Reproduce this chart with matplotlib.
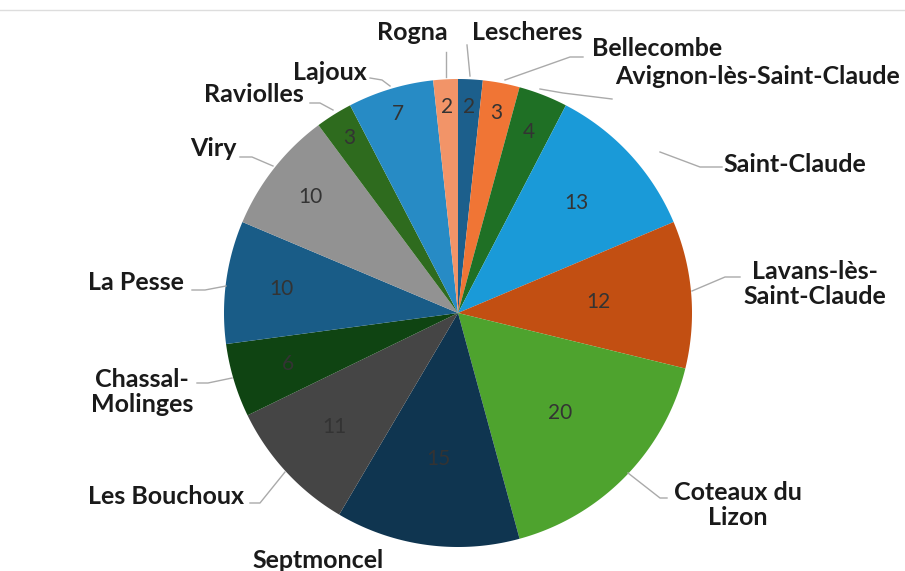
import matplotlib.pyplot as plt
import numpy as np
from matplotlib.lines import Line2D

communes = ["Lescheres", "Bellecombe", "Avignon-lès-Saint-Claude", "Saint-Claude",
            "Lavans-lès-\nSaint-Claude", "Coteaux du\nLizon", "Septmoncel",
            "Les Bouchoux", "Chassal-\nMolinges", "La Pesse", "Viry", "Raviolles",
            "Lajoux", "Rogna"]
values = [2, 3, 4, 13, 12, 20, 15, 11, 6, 10, 10, 3, 7, 2]
colors = ["#1c5f8c", "#f07535", "#1f7025", "#1a9ad8", "#c24f12", "#4ea32e", "#0f3550",
          "#454545", "#0f4412", "#195c87", "#929292", "#2e6b1e", "#278bc5", "#f29468"]

# layout (pixel coords, y measured from top)
W, H = 905, 571
cx, cy, R = 458, 313, 234
num_r = [0.88, 0.87, 0.83, 0.69, 0.6, 0.61, 0.63, 0.72, 0.76, 0.76, 0.8, 0.88, 0.89, 0.88]
label_xy = [(527, 32), (592, 48), (615, 76), (795, 165), (815, 284), (738, 505),
            (318, 560), (166, 496), (142, 392), (136, 282), (213, 149), (254, 95),
            (330, 72), (412, 32)]
label_ha = ["center", "left", "left", "center", "center", "center", "center",
            "center", "center", "center", "center", "center", "center", "center"]
leaders = [[(467, 45), (470, 76)],
           [(583, 57), (570, 57), (505, 80)],
           [(612, 99), (563, 93), (540, 89)],
           [(722, 167), (700, 167), (660, 152)],
           [(740, 277), (725, 277), (692, 291)],
           [(667, 498), (660, 498), (628, 473)],
           None,
           [(250, 503), (260, 503), (285, 472)],
           [(197, 383), (208, 383), (232, 378)],
           [(192, 290), (205, 290), (226, 286)],
           [(240, 157), (252, 157), (273, 166)],
           [(310, 103), (320, 103), (333, 110)],
           [(370, 78), (382, 80), (390, 86)],
           [(446, 52), (446, 77)]]

fig = plt.figure(figsize=(W / 100, H / 100), dpi=100)
ax = fig.add_axes([0, 0, 1, 1])
ax.set_xlim(0, W)
ax.set_ylim(H, 0)
ax.axis("off")

fig.add_artist(Line2D([0, 1], [1 - 10 / H, 1 - 10 / H], color="#dddddd", lw=1))

total = sum(values)
angles = np.cumsum([0] + values) / total * 2 * np.pi
for i, v in enumerate(values):
    a0, a1 = angles[i], angles[i + 1]
    t = np.linspace(a0, a1, 100)
    xs = np.concatenate([[cx], cx + R * np.sin(t), [cx]])
    ys = np.concatenate([[cy], cy - R * np.cos(t), [cy]])
    ax.fill(xs, ys, color=colors[i], lw=0)
    am = (a0 + a1) / 2
    ax.text(cx + num_r[i] * R * np.sin(am), cy - num_r[i] * R * np.cos(am), str(v),
            ha="center", va="center", fontsize=15, family="Lato", color="#333333")

for name, (x, y), ha, pts in zip(communes, label_xy, label_ha, leaders):
    ax.text(x, y, name, ha=ha, va="center", fontsize=18, family="Lato",
            fontweight="bold", color="#1a1a1a", linespacing=1.1)
    if pts:
        px, py = zip(*pts)
        ax.plot(px, py, color="#aaaaaa", lw=1)

fig.savefig("out.png", dpi=100)
